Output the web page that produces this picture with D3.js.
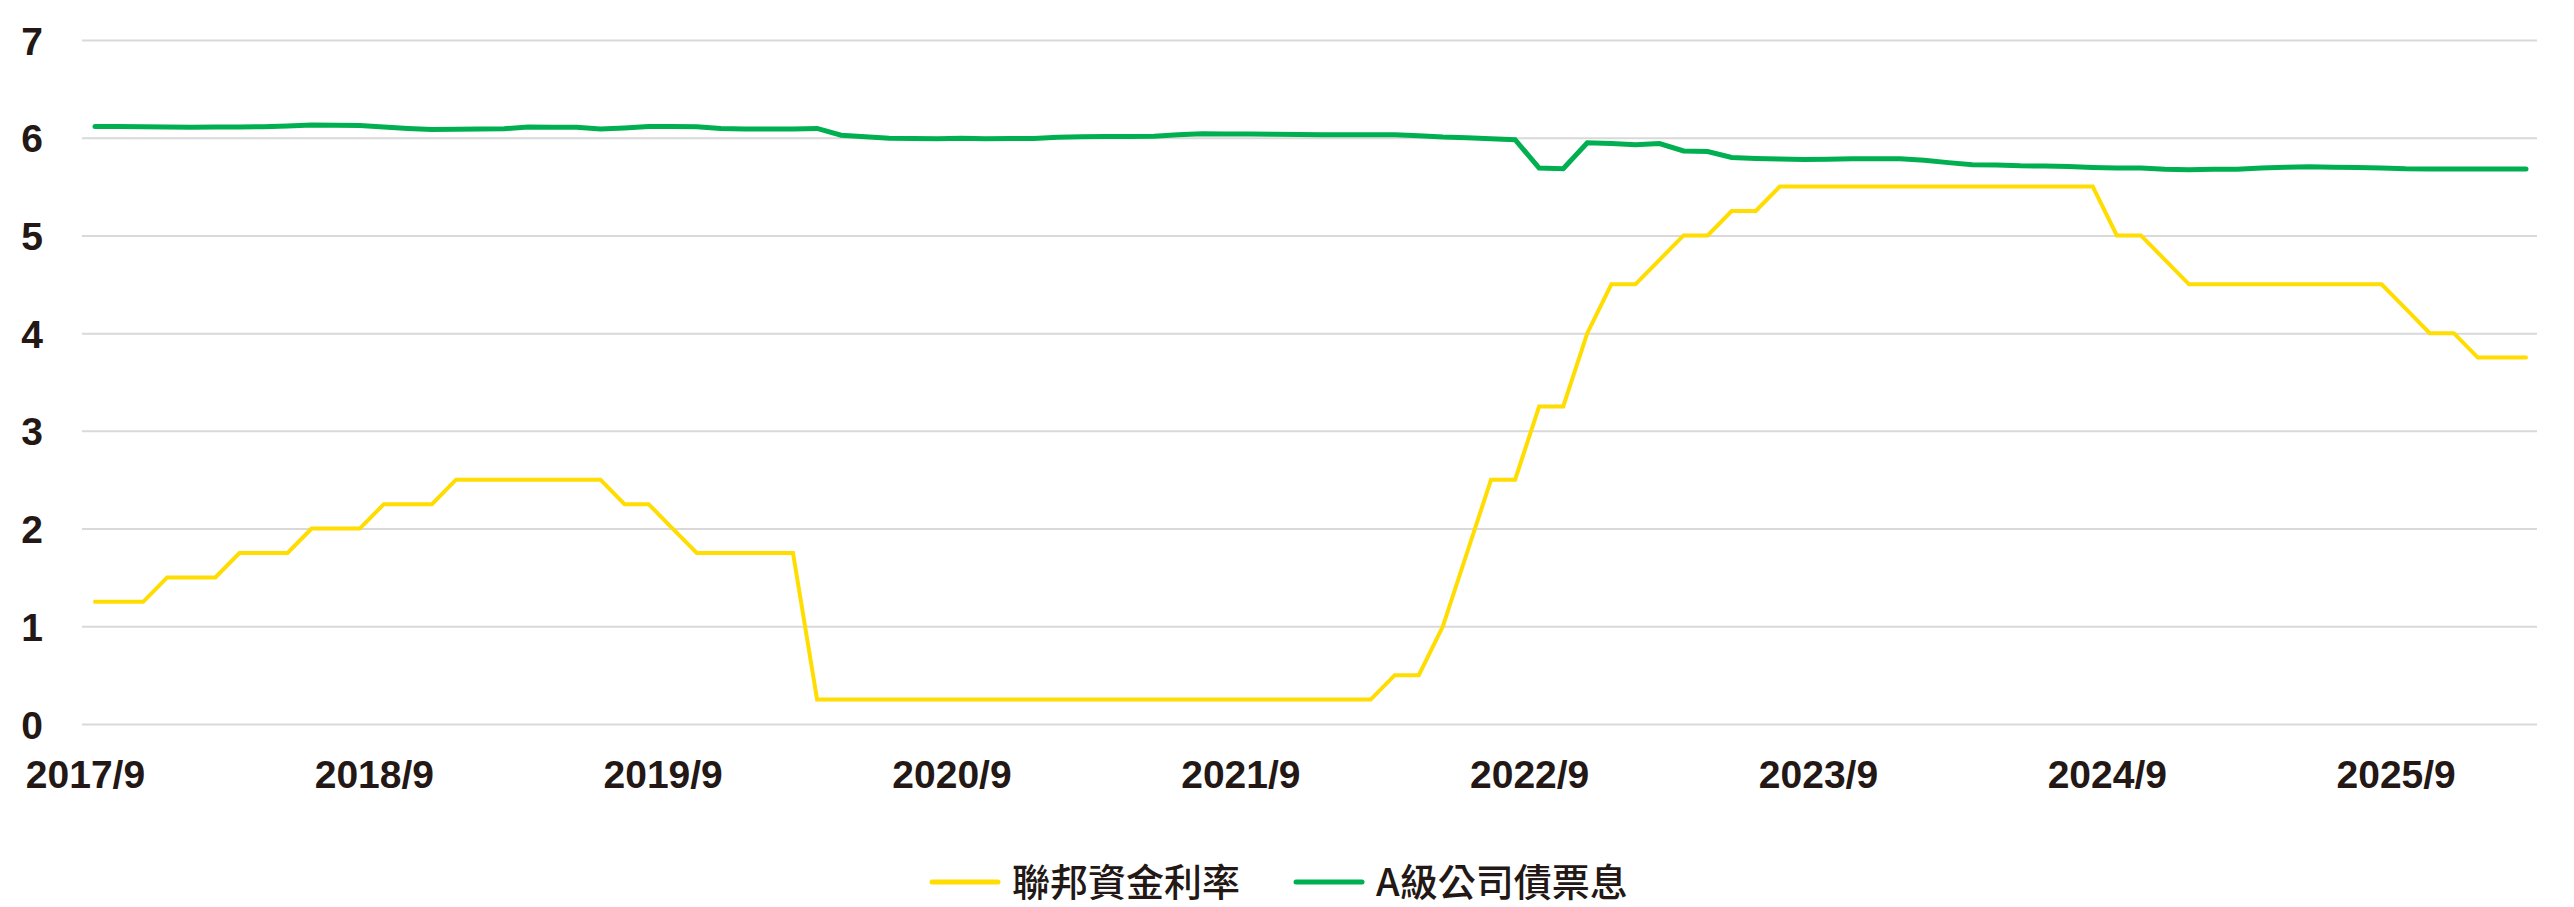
<!doctype html>
<html>
<head>
<meta charset="utf-8">
<script src="https://cdn.jsdelivr.net/npm/d3@7"></script>
<style>
  body { margin: 0; background: #fff; }
  svg { display: block; }
  .tick text { font-family: "Liberation Sans", Arial, sans-serif; font-weight: bold; fill: #231815; }
  .legend text { font-family: "Noto Sans CJK TC", sans-serif; font-weight: 500; fill: #231815; }
</style>
</head>
<body>
<svg id="chart"></svg>
<script>
// monthly, 2017/9 .. 2026/2
const start = new Date(2017, 8, 1);
const months = d3.timeMonths(start, new Date(2026, 2, 1)).map(d => `${d.getFullYear()}/${d.getMonth() + 1}`);

const tickLabels = ["2017/9", "2018/9", "2019/9", "2020/9", "2021/9", "2022/9", "2023/9", "2024/9", "2025/9"];
const yTicks = [0, 1, 2, 3, 4, 5, 6, 7];

const seriesNames = ["聯邦資金利率", "A級公司債票息"];
const seriesColors = ["#ffdd00", "#00b050"];

const fedRate = [
  1.25, 1.25, 1.25, 1.5,
  1.5, 1.5, 1.75, 1.75, 1.75, 2, 2, 2, 2.25, 2.25, 2.25, 2.5,
  2.5, 2.5, 2.5, 2.5, 2.5, 2.5, 2.25, 2.25, 2, 1.75, 1.75, 1.75,
  1.75, 1.75, 0.25, 0.25, 0.25, 0.25, 0.25, 0.25, 0.25, 0.25, 0.25, 0.25,
  0.25, 0.25, 0.25, 0.25, 0.25, 0.25, 0.25, 0.25, 0.25, 0.25, 0.25, 0.25,
  0.25, 0.25, 0.5, 0.5, 1, 1.75, 2.5, 2.5, 3.25, 3.25, 4, 4.5,
  4.5, 4.75, 5, 5, 5.25, 5.25, 5.5, 5.5, 5.5, 5.5, 5.5, 5.5,
  5.5, 5.5, 5.5, 5.5, 5.5, 5.5, 5.5, 5.5, 5, 5, 4.75, 4.5,
  4.5, 4.5, 4.5, 4.5, 4.5, 4.5, 4.5, 4.5, 4.25, 4, 4, 3.75,
  3.75, 3.75
];

const bondYield = [
  6.115, 6.115, 6.113, 6.11,
  6.108, 6.11, 6.11, 6.112, 6.12, 6.13, 6.128, 6.125, 6.11, 6.095, 6.085, 6.087,
  6.09, 6.092, 6.11, 6.108, 6.108, 6.09, 6.1, 6.115, 6.115, 6.112, 6.095, 6.09,
  6.09, 6.09, 6.095, 6.025, 6.01, 5.995, 5.993, 5.99, 5.995, 5.99, 5.993, 5.993,
  6.005, 6.01, 6.012, 6.012, 6.015, 6.03, 6.04, 6.037, 6.037, 6.036, 6.034, 6.03,
  6.03, 6.03, 6.03, 6.02, 6.007, 6.0, 5.99, 5.98, 5.69, 5.683, 5.948, 5.94,
  5.928, 5.94, 5.865, 5.858, 5.797, 5.787, 5.782, 5.778, 5.78, 5.785, 5.785, 5.785,
  5.77, 5.745, 5.724, 5.72, 5.712, 5.71, 5.705, 5.695, 5.69, 5.69, 5.678, 5.673,
  5.676, 5.678, 5.69, 5.697, 5.702, 5.698, 5.696, 5.69, 5.682, 5.68, 5.68, 5.68,
  5.68, 5.68
];

const width = 2574, height = 907;
const svg = d3.select("#chart").attr("width", width).attr("height", height);

const x = d3.scalePoint(months, [95, 2526]);
const y = d3.scaleLinear([0, 7], [724, 40]);
const gridLeft = 82, gridRight = 2537;

// gridlines + y labels
const yAxis = svg.append("g")
    .attr("transform", `translate(${gridLeft},0)`)
    .call(d3.axisLeft(y).tickValues(yTicks).tickFormat(d3.format("d"))
      .tickSize(-(gridRight - gridLeft)).tickPadding(0));
yAxis.select(".domain").remove();
yAxis.selectAll(".tick line").attr("stroke", "#d9d9d9").attr("stroke-width", 2);
yAxis.selectAll(".tick text")
    .attr("x", -50).attr("text-anchor", "middle").attr("dy", "0.36em")
    .attr("font-size", 39);

// x labels
const xAxis = svg.append("g")
    .attr("transform", `translate(0,${y(0)})`)
    .call(d3.axisBottom(x).tickValues(tickLabels).tickSize(0).tickPadding(0));
xAxis.select(".domain").remove();
xAxis.selectAll(".tick text")
    .attr("dx", -10).attr("y", 64).attr("dy", 0)
    .attr("font-size", 39);

const series = [fedRate, bondYield];
const widths = [4, 5];
const line = d3.line().x((d, i) => x(months[i])).y(d => y(d));

// green drawn first, yellow on top as in the original
[1, 0].forEach(k => {
  svg.append("path")
      .datum(series[k])
      .attr("fill", "none")
      .attr("stroke", seriesColors[k])
      .attr("stroke-width", widths[k])
      .attr("stroke-linejoin", "miter")
      .attr("stroke-linecap", "round")
      .attr("d", line);
});

// legend
const legend = svg.append("g").attr("class", "legend");
const legendX = [932, 1296];
seriesNames.forEach((name, k) => {
  const g = legend.append("g").attr("transform", `translate(${legendX[k]},882)`);
  g.append("line").attr("x1", 0).attr("x2", 66)
      .attr("stroke", seriesColors[k]).attr("stroke-width", 5).attr("stroke-linecap", "round");
  g.append("text").attr("x", 80).attr("y", 0).attr("dy", "0.36em")
      .attr("font-size", 38).text(name);
});
</script>
</body>
</html>
